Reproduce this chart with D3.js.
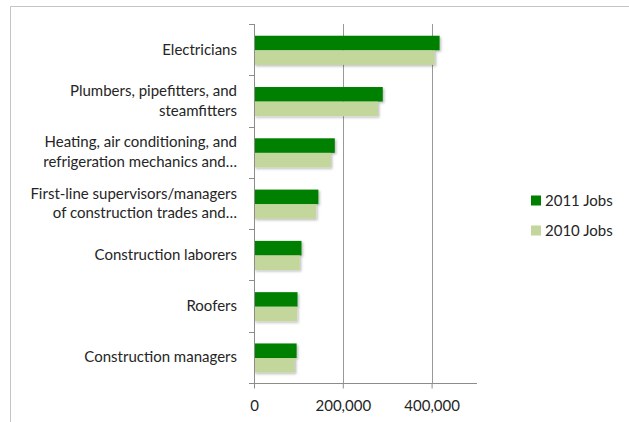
<!DOCTYPE html>
<html>
<head>
<meta charset="utf-8">
<script src="https://cdn.jsdelivr.net/npm/d3@7"></script>
<style>
  html, body { margin: 0; padding: 0; background: #fff; }
  svg { display: block; font-family: Lato, "Open Sans", sans-serif; }
</style>
</head>
<body>
<svg id="chart" width="629" height="422"></svg>
<script>
// Construction occupations, jobs by year
const categories = [
  ["Electricians"],
  ["Plumbers, pipefitters, and", "steamfitters"],
  ["Heating, air conditioning, and", "refrigeration mechanics and…"],
  ["First-line supervisors/managers", "of construction trades and…"],
  ["Construction laborers"],
  ["Roofers"],
  ["Construction managers"]
];
const jobs2011 = [418000, 290000, 182000, 145000, 107000, 98000, 96000];
const jobs2010 = [407000, 279000, 173000, 140000, 103000, 97000, 92000];
const seriesNames = ["2011 Jobs", "2010 Jobs"];
const seriesColors = ["#008000", "#c3d69b"];
const xTicks = [0, 200000, 400000];

const svg = d3.select("#chart");
const fontSize = "15px";
const textColor = "#252525";
const axisColor = "#8c8c8c";

// outer frame
svg.append("path")
  .attr("d", "M10.5,422 V6.5 H629")
  .attr("fill", "none")
  .attr("stroke", "#c4c4c4")
  .attr("stroke-width", 1);

const plotLeft = 254, plotRight = 476, plotTop = 24, plotBottom = 383;

const x = d3.scaleLinear().domain([0, 500000]).range([plotLeft, plotRight]);
const y = d3.scaleBand().domain(d3.range(categories.length)).range([plotTop, plotBottom]);
const inner = d3.scaleBand().domain([0, 1]).range([0, y.bandwidth()])
  .paddingInner(0).paddingOuter(0.76).align(0.53);

// soft shadow under the bars
const defs = svg.append("defs");
const f = defs.append("filter").attr("id", "shadow")
  .attr("x", "-5%").attr("y", "-20%").attr("width", "115%").attr("height", "160%");
f.append("feDropShadow").attr("dx", 1.5).attr("dy", 1.5).attr("stdDeviation", 1.2)
  .attr("flood-color", "#000").attr("flood-opacity", 0.25);

// vertical gridlines
svg.append("g")
  .selectAll("line")
  .data(xTicks.filter(d => d > 0))
  .join("line")
  .attr("x1", d => Math.round(x(d)) + 0.5)
  .attr("x2", d => Math.round(x(d)) + 0.5)
  .attr("y1", plotTop)
  .attr("y2", plotBottom)
  .attr("stroke", "#999")
  .attr("stroke-width", 1);

// bars
const series = [jobs2011, jobs2010];
const groups = svg.append("g").selectAll("g")
  .data(categories.map((c, i) => i))
  .join("g")
  .attr("transform", i => `translate(0,${y(i)})`);

groups.selectAll("rect")
  .data(i => series.map((s, k) => ({ k, v: s[i] })))
  .join("rect")
  .attr("x", x(0))
  .attr("y", d => inner(d.k))
  .attr("width", d => x(d.v) - x(0))
  .attr("height", inner.bandwidth())
  .attr("fill", d => seriesColors[d.k])
  .attr("filter", "url(#shadow)");

// x axis
const xAxis = d3.axisBottom(x).tickValues(xTicks).tickSize(5).tickSizeOuter(0)
  .tickFormat(d3.format(","));
const gx = svg.append("g").attr("transform", `translate(0,${plotBottom + 0.5})`).call(xAxis);
gx.select(".domain").remove();
gx.append("line").attr("x1", plotLeft - 5).attr("x2", plotRight + 1).attr("y1", 0).attr("y2", 0)
  .attr("stroke", axisColor);
gx.selectAll(".tick line").attr("stroke", axisColor);
gx.selectAll(".tick text")
  .attr("y", 27)
  .attr("dy", null)
  .attr("fill", textColor)
  .style("font-size", fontSize)
  .style("font-family", "Lato, 'Open Sans', sans-serif");

// y axis line and category boundary ticks
const gy = svg.append("g");
gy.append("line").attr("x1", plotLeft + 0.5).attr("x2", plotLeft + 0.5)
  .attr("y1", plotTop).attr("y2", plotBottom)
  .attr("stroke", axisColor);
gy.selectAll("line.t")
  .data(d3.range(categories.length))
  .join("line")
  .attr("class", "t")
  .attr("x1", plotLeft - 5).attr("x2", plotLeft)
  .attr("y1", i => Math.round(y(i)) + 0.5)
  .attr("y2", i => Math.round(y(i)) + 0.5)
  .attr("stroke", axisColor);

// category labels
const labels = svg.append("g").selectAll("text")
  .data(categories)
  .join("text")
  .attr("text-anchor", "end")
  .attr("fill", textColor)
  .style("font-size", fontSize)
  .attr("transform", (c, i) => `translate(237,${y(i) + y.bandwidth() / 2})`);
labels.selectAll("tspan")
  .data(c => c.map((t, j) => ({ t, j, n: c.length })))
  .join("tspan")
  .attr("x", 0)
  .attr("y", d => (d.j - (d.n - 1) / 2) * 19.5)
  .attr("dy", "0.33em")
  .text(d => d.t);

// legend
const legend = svg.append("g").attr("transform", "translate(531,200.5)");
const li = legend.selectAll("g").data(seriesNames).join("g")
  .attr("transform", (d, i) => `translate(0,${i * 30})`);
li.append("rect").attr("x", 0).attr("y", -5).attr("width", 10).attr("height", 10)
  .attr("fill", (d, i) => seriesColors[i]);
li.append("text").attr("x", 14).attr("dy", "0.35em")
  .attr("fill", textColor)
  .style("font-size", fontSize)
  .text(d => d);
</script>
</body>
</html>
